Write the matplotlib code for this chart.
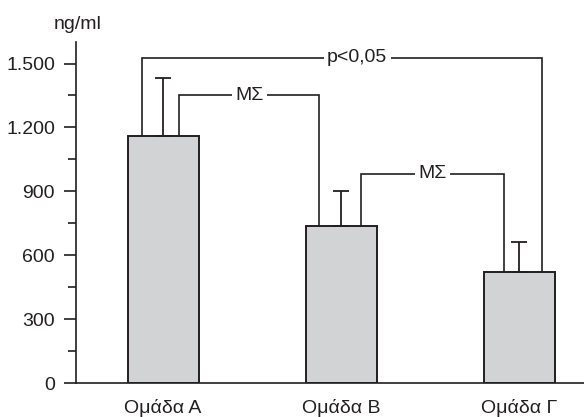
import numpy as np
import matplotlib
matplotlib.use("Agg")
import matplotlib.pyplot as plt
from matplotlib.ticker import MultipleLocator, FuncFormatter

plt.rcParams['font.family'] = ['Liberation Sans', 'DejaVu Sans']

# ── Data ─────────────────────────────────────────────────────────────────────
groups = ["Ομάδα Α", "Ομάδα Β", "Ομάδα Γ"]
means = [1160, 740, 520]
upper = [1430, 900, 665]          # top of the error whiskers

# brackets: (left bar, left offset, right bar, right offset, height, label)
bracket_left = [0, 0, 1]
bracket_left_off = [-0.117, 0.09, 0.109]
bracket_right = [2, 1, 2]
bracket_right_off = [0.128, -0.122, -0.087]
bracket_height = [1528, 1351, 984]
bracket_label = ["p<0,05", "ΜΣ", "ΜΣ"]
label_x = [1.09, None, None]

INK = "#231f20"
BAR = "#d2d3d5"
FS = 14

fig = plt.figure(figsize=(5.84, 4.17), dpi=100)
ax = fig.add_axes([0.130, 0.0808, 0.870, 0.818])

x = np.arange(len(groups))
ax.bar(x, means, width=0.4, color=BAR, edgecolor=INK, linewidth=1.4, zorder=2)

err = np.array(upper) - np.array(means)
ax.errorbar(x, means, yerr=[np.zeros_like(err), err], fmt="none",
            ecolor=INK, elinewidth=1.3, capsize=5.8, capthick=1.3, zorder=3)

for i in range(len(bracket_label)):
    xl = bracket_left[i] + bracket_left_off[i]
    xr = bracket_right[i] + bracket_right_off[i]
    h = bracket_height[i]
    ax.plot([xl, xl, xr, xr],
            [means[bracket_left[i]], h, h, means[bracket_right[i]]],
            color=INK, lw=1.2, solid_joinstyle="miter", zorder=3)
    lx = label_x[i] if label_x[i] is not None else (xl + xr) / 2
    ax.text(lx, h, bracket_label[i], ha="center", va="center", fontsize=FS,
            color=INK, zorder=4,
            bbox=dict(facecolor="white", edgecolor="none", pad=2.5))

ax.set_xlim(-0.49, 2.364)
ax.set_ylim(0, 1600)
ax.set_xticks(x)
ax.set_xticklabels(groups, fontsize=FS, color=INK)
ax.tick_params(axis="x", length=0, pad=11)

ax.set_yticks([0, 300, 600, 900, 1200, 1500])
ax.yaxis.set_major_formatter(FuncFormatter(lambda v, p: f"{int(v):,}".replace(",", ".")))
ax.yaxis.set_minor_locator(MultipleLocator(150))
ax.tick_params(axis="y", which="major", length=9, width=1.2, color=INK,
               labelsize=FS, labelcolor=INK, pad=6)
ax.tick_params(axis="y", which="minor", length=6, width=1.2, color=INK)

for s in ["top", "right"]:
    ax.spines[s].set_visible(False)
for s in ["left", "bottom"]:
    ax.spines[s].set_linewidth(1.2)
    ax.spines[s].set_color(INK)

fig.text(0.133, 0.942, "ng/ml", ha="center", va="center", fontsize=FS, color=INK)

fig.savefig("out.png", dpi=100)
